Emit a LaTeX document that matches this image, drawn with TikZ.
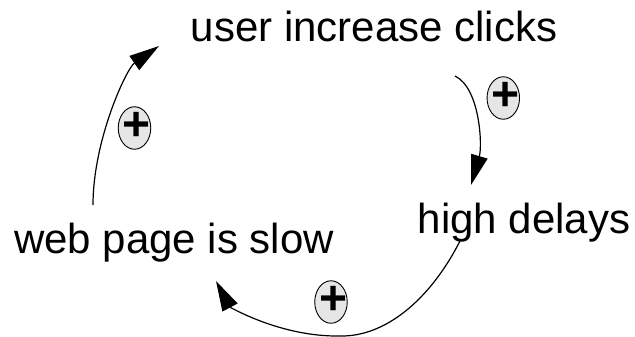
\documentclass[tikz,border=0pt]{standalone}
\usepackage{fontspec}
\setmainfont{Liberation Sans}
\usetikzlibrary{arrows.meta,shapes.geometric}
\definecolor{markfill}{HTML}{E6E6E6}
\begin{document}
\begin{tikzpicture}[x=1pt,y=-1pt,
  label/.style={anchor=base,inner sep=0pt,font=\fontsize{42}{50}\selectfont},
  plusnode/.style={ellipse,draw=black,line width=0.9pt,fill=markfill,minimum width=32.5pt,minimum height=42.5pt,inner sep=0pt,
    font=\fontsize{48}{48}\selectfont\bfseries},
  link/.style={line width=1.2pt,-{Triangle[length=30pt,width=17pt]}}]
\useasboundingbox (0,0) rectangle (635,337);
\newcommand{\plussign}{\raisebox{-12.5pt}[0pt][0pt]{\makebox[0pt]{\kern5pt+}}}
% labels
\node[label] (uic) at (374,42) {user increase clicks};
\node[label] (hd) at (524,233) {high delays};
\node[label] (wps) at (174,253) {web page is slow};
% polarity markers
\node[plusnode] (p1) at (134.5,128) {\plussign};
\node[plusnode] (p2) at (503.3,98) {\plussign};
\node[plusnode] (p3) at (331,302) {\plussign};
% connector end points
\coordinate (s1) at (93,205);
\coordinate (t1) at (159,46);
\coordinate (s2) at (455,76);
\coordinate (t2) at (471,185);
\coordinate (s3) at (460,241);
\coordinate (m3) at (340,336);
\coordinate (t3) at (216,281);
% connectors
\draw[link] (s1) .. controls (93,140) and (126.5,68.5) .. (t1);
\draw[link] (s2) .. controls (480,88) and (482.5,145.5) .. (t2);
\draw[link] (s3) .. controls (430,300) and (385,337) .. (m3)
  .. controls (280,337) and (229.5,306.5) .. (t3);
\end{tikzpicture}
\end{document}
